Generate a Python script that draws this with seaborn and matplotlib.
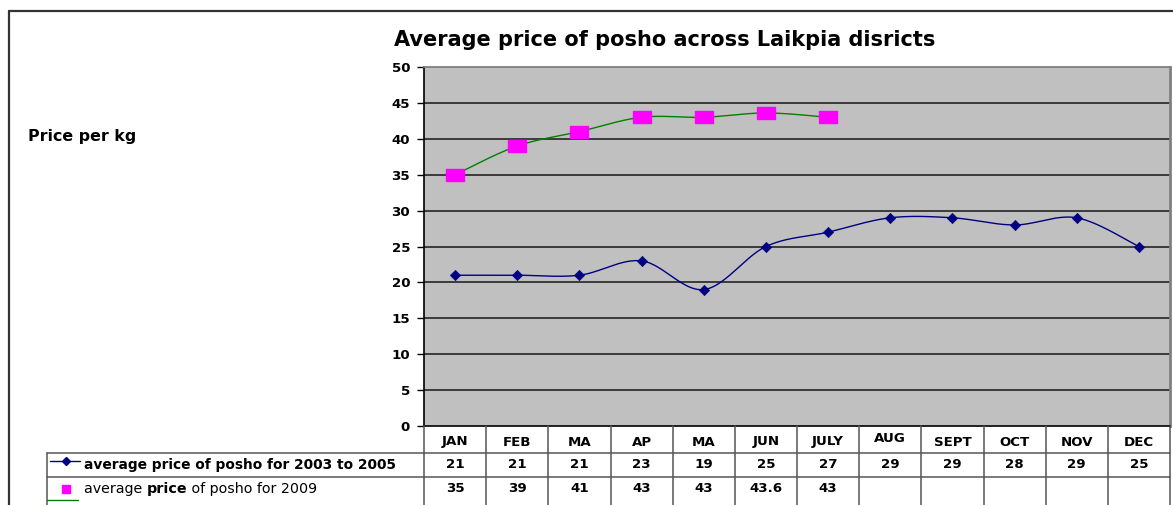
import numpy as np
import pandas as pd
import matplotlib
matplotlib.use("Agg")
import matplotlib.pyplot as plt
import seaborn as sns
from matplotlib.lines import Line2D
import matplotlib.transforms as mtrans

months = ["JAN", "FEB", "MA", "AP", "MA", "JUN", "JULY", "AUG", "SEPT", "OCT", "NOV", "DEC"]
series1_label = "average price of posho for 2003 to 2005"
series1 = [21, 21, 21, 23, 19, 25, 27, 29, 29, 28, 29, 25]
series2_label = "average price of posho for 2009"
series2 = [35, 39, 41, 43, 43, 43.6, 43]
series2_text = ["35", "39", "41", "43", "43", "43.6", "43"]
title = "Average price of posho across Laikpia disricts"
ylabel = "Price per kg"
yticks = [0, 5, 10, 15, 20, 25, 30, 35, 40, 45, 50]

sns.set_style("white")
plt.rcParams["font.family"] = ["DejaVu Sans"]
plt.rcParams["text.color"] = "black"
plt.rcParams["ytick.color"] = "black"
plt.rcParams["ytick.labelcolor"] = "black"

FS = 9.6
W, H = 1173, 505
fig = plt.figure(figsize=(W / 100, H / 100), dpi=100)
ax = fig.add_axes([424 / W, 1 - 426 / H, (1170 - 424) / W, (426 - 67) / H])
ax.set_facecolor("#C0C0C0")


def smooth(xs, ys, n=30):
    xs = np.asarray(xs, float)
    ys = np.asarray(ys, float)
    P = np.column_stack([xs, ys])
    out = []
    for i in range(len(P) - 1):
        p0 = P[i - 1] if i > 0 else P[i]
        p1 = P[i]
        p2 = P[i + 1]
        p3 = P[i + 2] if i + 2 < len(P) else P[i + 1]
        c1 = p1 + (p2 - p0) / 6.0
        c2 = p2 - (p3 - p1) / 6.0
        t = np.linspace(0, 1, n)[:, None]
        seg = ((1 - t) ** 3) * p1 + 3 * ((1 - t) ** 2) * t * c1 + 3 * (1 - t) * t ** 2 * c2 + t ** 3 * p2
        out.append(seg if i == 0 else seg[1:])
    return np.vstack(out)


x1 = np.arange(len(series1))
x2 = np.arange(len(series2))
s1 = smooth(x1, series1)
s2 = smooth(x2, series2)
sns.lineplot(x=s1[:, 0], y=s1[:, 1], sort=False, ax=ax, color="#000080", lw=1.0, estimator=None)
sns.lineplot(x=s2[:, 0], y=s2[:, 1], sort=False, ax=ax, color="#008000", lw=1.0, estimator=None)
sns.scatterplot(x=x1, y=series1, ax=ax, marker="D", s=28, color="#000080", edgecolor="#000080", zorder=5)
rect = [(-1.5, -1), (1.5, -1), (1.5, 1), (-1.5, 1), (-1.5, -1)]
ax.plot(x2, series2, ls="none", marker=rect, ms=12.5, color="#FF00FF", mec="#FF00FF", zorder=5)

ax.set_xlim(-0.5, len(months) - 0.5)
ax.set_ylim(0, 50)
ax.set_yticks(yticks)
ax.set_yticklabels([str(v) for v in yticks], fontsize=FS, fontweight="bold", color="black")
ax.set_xticks([])
ax.tick_params(axis="y", direction="out", length=5, width=1, color="black", pad=5, left=True)
for v in yticks[1:-1]:
    ax.axhline(v, color="#303030", lw=1.3, zorder=1)
for side in ["left", "bottom"]:
    ax.spines[side].set_color("black")
    ax.spines[side].set_linewidth(1.2)
ax.spines["top"].set_color("#808080")
ax.spines["top"].set_linewidth(1.3)
ax.spines["right"].set_color("#808080")
ax.spines["right"].set_linewidth(2)
ax.set_xlabel("")
ax.set_ylabel("")

# Title and axis label
fig.text(665 / W, 1 - 40 / H, title, ha="center", va="center", fontsize=15, fontweight="bold")
fig.text(28 / W, 1 - 137 / H, ylabel, ha="left", va="center", fontsize=11.4, fontweight="bold")

# Outer chart border
fig.add_artist(Line2D([9 / W, 1.01], [1 - 11 / H, 1 - 11 / H], transform=fig.transFigure, color="#333333", lw=1.6))
fig.add_artist(Line2D([9 / W, 9 / W], [1 - 11 / H, -0.01], transform=fig.transFigure, color="#333333", lw=1.6))

# Data table
bt = mtrans.blended_transform_factory(ax.transData, fig.transFigure)
fy = lambda py: 1 - py / H
grid_col = "#555555"
for i in range(len(months) + 1):
    fig.add_artist(Line2D([i - 0.5, i - 0.5], [fy(426), fy(506)], transform=bt, color=grid_col, lw=1.1))
fig.add_artist(Line2D([47 / W, 1170 / W], [fy(453), fy(453)], transform=fig.transFigure, color=grid_col, lw=1.1))
fig.add_artist(Line2D([47 / W, 1170 / W], [fy(477), fy(477)], transform=fig.transFigure, color=grid_col, lw=1.1))
fig.add_artist(Line2D([47 / W, 47 / W], [fy(453), fy(506)], transform=fig.transFigure, color=grid_col, lw=1.1))

for i, m in enumerate(months):
    yy = 438 if m == "AUG" else 442
    fig.text(i, fy(yy), m, transform=bt, ha="center", va="center", fontsize=FS, fontweight="bold")
    fig.text(i, fy(465), str(series1[i]), transform=bt, ha="center", va="center", fontsize=FS, fontweight="bold")
for i, t in enumerate(series2_text):
    fig.text(i, fy(489), t, transform=bt, ha="center", va="center", fontsize=FS, fontweight="bold")

# Legend keys in table
fig.add_artist(Line2D([50 / W, 80 / W], [fy(461), fy(461)], transform=fig.transFigure, color="#000080", lw=1.0))
fig.add_artist(Line2D([66 / W], [fy(461)], transform=fig.transFigure, marker="D", ms=4.5, color="#000080", ls="none"))
fig.add_artist(Line2D([47 / W, 78 / W], [fy(500), fy(500)], transform=fig.transFigure, color="#008000", lw=1.0))
fig.add_artist(Line2D([66 / W], [fy(489)], transform=fig.transFigure, marker="s", ms=5.5, color="#FF00FF", ls="none"))

FN = 10.3
fig.text(84 / W, fy(465), series1_label, ha="left", va="center", fontsize=9.9, fontweight="bold")
t1 = fig.text(84 / W, fy(489), "average ", ha="left", va="center", fontsize=FN)
t2 = fig.text(0, 0, "price", fontsize=FN, fontweight="bold", ha="left", va="bottom")
fig.canvas.draw()
r = fig.canvas.get_renderer()
bb = t1.get_window_extent(r)
t2.set_position((bb.x1 / W, bb.y0 / H))
fig.canvas.draw()
bb2 = t2.get_window_extent(r)
fig.text(bb2.x1 / W, bb.y0 / H, " of posho for 2009", fontsize=FN, ha="left", va="bottom")

fig.savefig("out.png", dpi=100)
